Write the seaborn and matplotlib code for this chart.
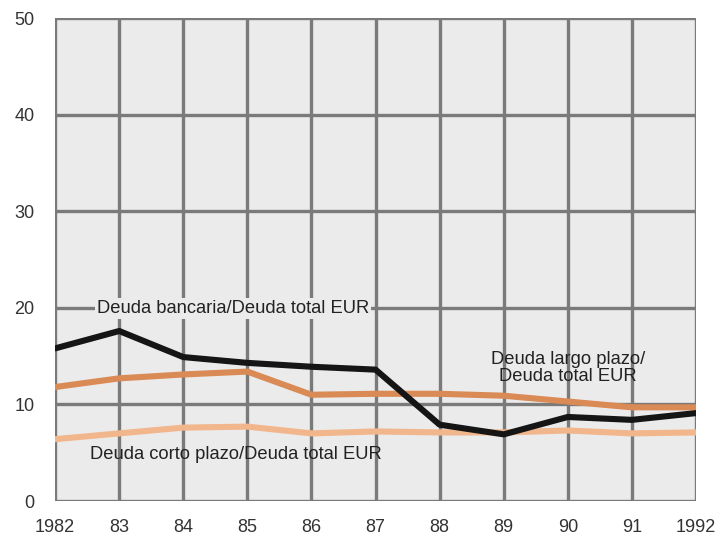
import pandas as pd
import matplotlib.pyplot as plt
import seaborn as sns

years = [1982, 1983, 1984, 1985, 1986, 1987, 1988, 1989, 1990, 1991, 1992]
year_labels = ['1982', '83', '84', '85', '86', '87', '88', '89', '90', '91', '1992']
bancaria = [15.8, 17.6, 14.9, 14.3, 13.9, 13.6, 7.9, 6.9, 8.7, 8.4, 9.1]
largo = [11.8, 12.7, 13.1, 13.4, 11.0, 11.1, 11.1, 10.9, 10.3, 9.7, 9.7]
corto = [6.4, 7.0, 7.6, 7.7, 7.0, 7.2, 7.1, 7.1, 7.3, 7.0, 7.1]

df = pd.DataFrame({
    'year': years * 3,
    'value': bancaria + largo + corto,
    'serie': ['bancaria'] * 11 + ['largo'] * 11 + ['corto'] * 11,
})

sns.set_style('white')
plt.rcParams['font.family'] = ['Liberation Sans', 'DejaVu Sans']

fig = plt.figure(figsize=(7.16, 5.39), dpi=100)
ax = fig.add_axes([0.077, 0.0705, 0.895, 0.896])
ax.set_facecolor('#ebebeb')
fig.patch.set_facecolor('white')

# grid drawn as the frame too
grid_c = '#7a7a7a'
for y in range(0, 51, 10):
    ax.axhline(y, color=grid_c, lw=2.4, zorder=1)
for x in years:
    ax.axvline(x, color=grid_c, lw=2.4, zorder=1)

palette = {'bancaria': '#151515', 'largo': '#d98a55', 'corto': '#f2b68c'}
sns.lineplot(data=df, x='year', y='value', hue='serie', palette=palette,
             hue_order=['corto', 'largo', 'bancaria'],
             linewidth=4.4, legend=False, ax=ax, zorder=3)

ax.set_xlim(1982, 1992)
ax.set_ylim(0, 50)
ax.set_xticks(years)
ax.set_xticklabels(year_labels)
ax.set_yticks(range(0, 51, 10))
for s in ax.spines.values():
    s.set_visible(False)
ax.tick_params(axis='y', length=13, width=2.4, color=grid_c, labelsize=13,
               labelcolor='#333333', pad=2)
ax.tick_params(axis='x', length=11, width=2.4, color=grid_c, labelsize=13,
               labelcolor='#333333', pad=2)
ax.set_xlabel('')
ax.set_ylabel('')

box = dict(boxstyle='square,pad=0.1', fc='#ebebeb', ec='none')
ax.text(1982.65, 19.9, 'Deuda bancaria/Deuda total EUR', fontsize=13.2,
        color='#222222', va='center', ha='left', zorder=4, bbox=box)
ax.text(1990.0, 13.8, 'Deuda largo plazo/\nDeuda total EUR', fontsize=13.2,
        color='#222222', va='center', ha='center', linespacing=1.0, zorder=4)
ax.text(1982.55, 4.8, 'Deuda corto plazo/Deuda total EUR', fontsize=13.2,
        color='#222222', va='center', ha='left', zorder=4)

fig.savefig('out.png', dpi=100)
